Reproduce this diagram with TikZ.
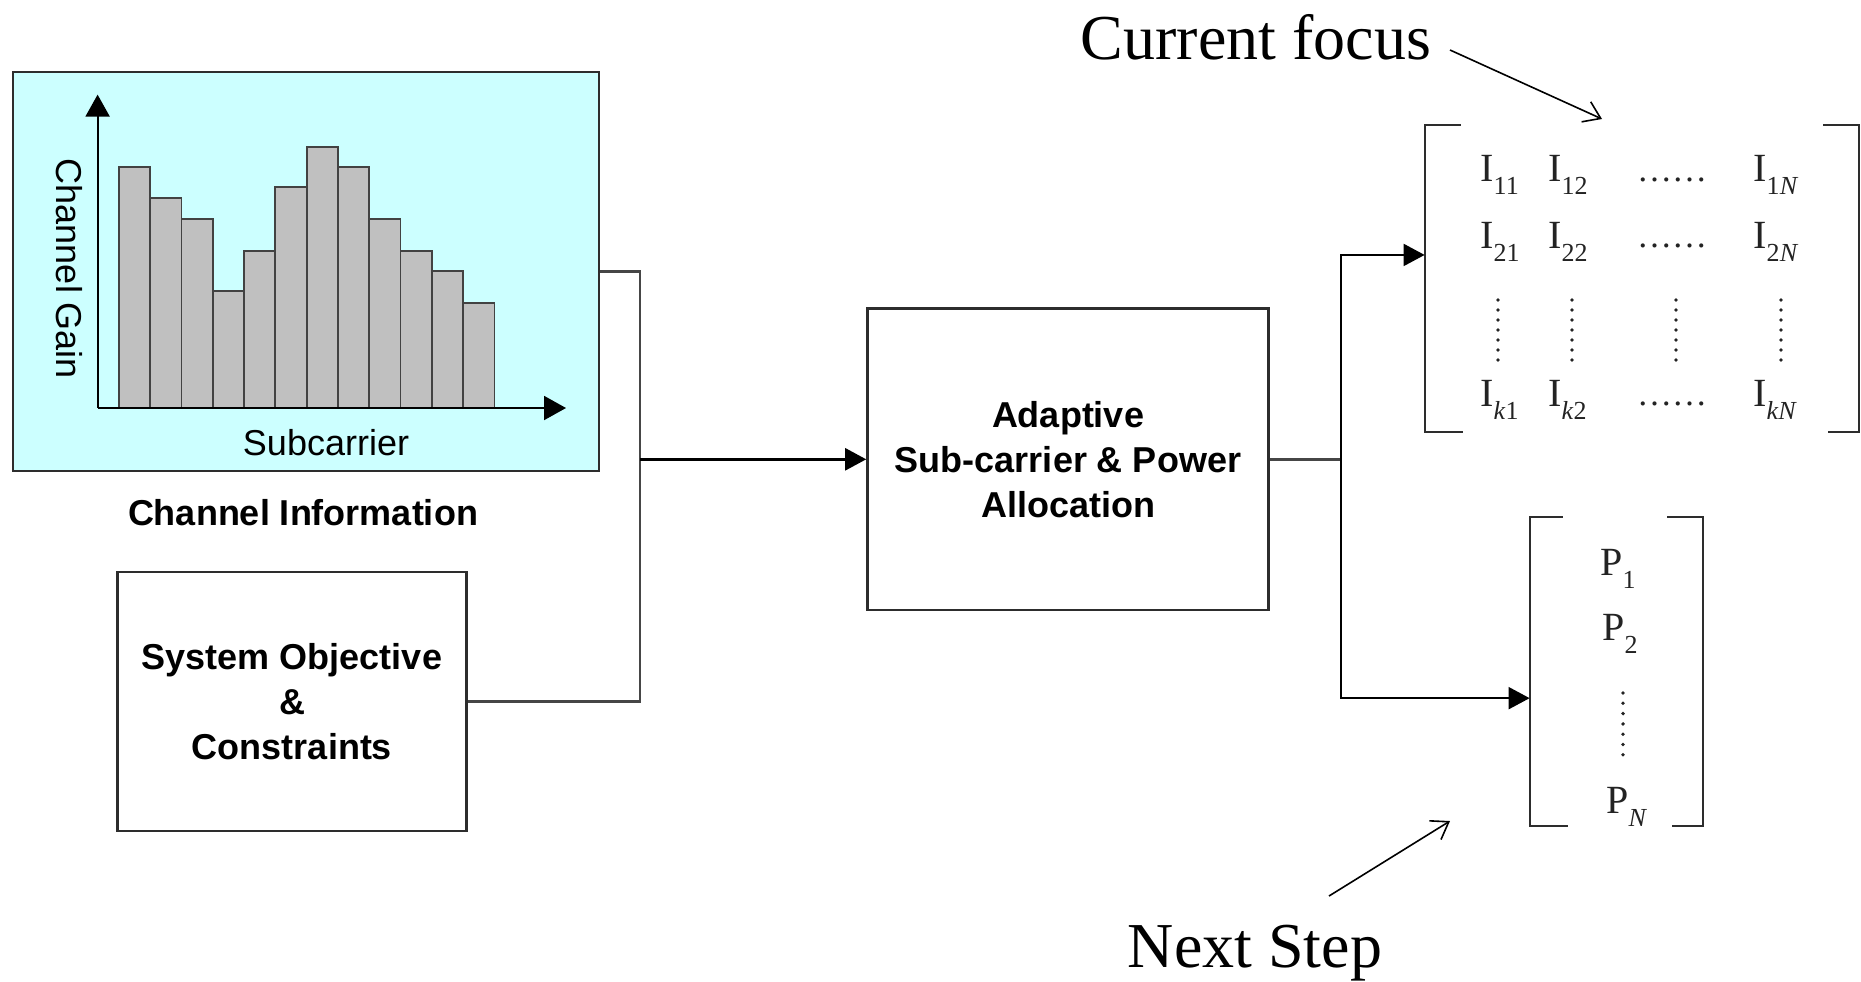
\documentclass[tikz,border=0pt]{standalone}
\usepackage{fontspec}
\setmainfont{Liberation Serif}
\setsansfont{Liberation Sans}
\usetikzlibrary{arrows.meta,calc}
\definecolor{chanfill}{RGB}{204,255,255}
\definecolor{barfill}{RGB}{192,192,192}
\definecolor{edge}{RGB}{45,45,45}
\definecolor{wire}{RGB}{70,70,70}
\definecolor{mtext}{RGB}{35,35,35}
% lowered index for matrix entries
\newcommand\lowsub[1]{\raisebox{-6.5pt}{\fontsize{13}{14}\selectfont #1}}
\begin{document}
\begin{tikzpicture}[x=0.5pt,y=-0.5pt,
  blockbox/.style={draw=edge, line width=1.3pt, inner sep=0pt, align=center,
    font=\sffamily\bfseries\fontsize{18}{22.5}\selectfont},
  bartile/.style={draw=edge!90, line width=0.9pt, fill=barfill},
  axisline/.style={draw=black, line width=1pt, -{Triangle[length=11pt,width=12pt]}},
  conn/.style={draw=wire, line width=1.2pt},
  flow/.style={draw=black, line width=1.2pt, -{Triangle[length=10.5pt,width=11pt]}},
  branch/.style={draw=black, line width=1pt, -{Triangle[length=10.5pt,width=11pt]}},
  callout/.style={draw=black, line width=0.8pt, -{Straight Barb[length=8pt,width=11pt,line width=0.8pt]}},
  plain/.style={font=\sffamily\fontsize{18}{22.5}\selectfont, inner sep=0pt},
  bold/.style={font=\sffamily\bfseries\fontsize{18}{22.5}\selectfont, inner sep=0pt, align=center},
  note/.style={font=\fontsize{32}{36}\selectfont, inner sep=0pt},
  entry/.style={font=\fontsize{20}{22}\selectfont, text=mtext, inner sep=0pt, anchor=base west},
  hdots/.style={font=\fontsize{17.5}{20}\selectfont, text=mtext, inner sep=0pt, anchor=base},
  bracket/.style={draw=edge, line width=1pt},
  vdot/.style={fill=mtext}
]
\useasboundingbox (0,0) rectangle (1861,981);

% ---- channel information block ----
\node[blockbox, fill=chanfill, minimum width=293pt, minimum height=199.5pt] (chan) at (306,271.5) {};
\foreach \i/\h in {0/167,1/198,2/219,3/291,4/251,5/187,6/147,7/167,8/219,9/251,10/271,11/303}
  \draw[bartile] ({118.8+\i*31.3},408) rectangle ({118.8+(\i+1)*31.3},\h);
\draw[axisline] (97.6,408) -- (97.6,94.6);
\draw[axisline] (97.6,408) -- (566,408);
\node[plain, rotate=-90] (gain) at (69,269) {Channel Gain};
\node[plain] (subc) at (326,443) {Subcarrier};
\node[bold] (chaninfo) at (303,513) {Channel Information};

% ---- system objective block ----
\node[blockbox, minimum width=174.5pt, minimum height=129.5pt] (sys) at (292,701.5)
  {System Objective\\\&\\Constraints};

% ---- allocation block ----
\node[blockbox, minimum width=200.5pt, minimum height=150.7pt] (adapt) at (1068,459.3)
  {Adaptive\\Sub-carrier \& Power\\Allocation};

% ---- subcarrier assignment matrix ----
\node[minimum width=217pt, minimum height=153.5pt, inner sep=0pt] (imat) at (1642,278.5) {};
\draw[bracket] ([xshift=18pt]imat.north west) -- (imat.north west) -- (imat.south west) -- ([xshift=19pt]imat.south west);
\draw[bracket] ([xshift=-18pt]imat.north east) -- (imat.north east) -- (imat.south east) -- ([xshift=-15.5pt]imat.south east);
\node[entry] (i11) at (1480,181.7) {I\lowsub{11}};
\node[entry] (i12) at (1548,181.7) {I\lowsub{12}};
\node[hdots] (i1d) at (1672,181) {……};
\node[entry] (i1n) at (1753,181.7) {I\lowsub{1\textit{N}}};
\node[entry] (i21) at (1480,248.3) {I\lowsub{21}};
\node[entry] (i22) at (1548,248.3) {I\lowsub{22}};
\node[hdots] (i2d) at (1672,247.5) {……};
\node[entry] (i2n) at (1753,248.3) {I\lowsub{2\textit{N}}};
\node[entry] (ik1) at (1480,406) {I\lowsub{\textit{k}1}};
\node[entry] (ik2) at (1548,406) {I\lowsub{\textit{k}2}};
\node[hdots] (ikd) at (1672,405) {……};
\node[entry] (ikn) at (1753,406) {I\lowsub{\textit{kN}}};
\foreach \c in {1498,1572,1676,1781}
  \foreach \k in {0,...,6}
    \fill[vdot] (\c,{300+\k*10}) circle[radius=0.95pt];

% ---- power allocation vector ----
\node[minimum width=86.5pt, minimum height=154.5pt, inner sep=0pt] (pmat) at (1616.5,671.5) {};
\draw[bracket] ([xshift=16.5pt]pmat.north west) -- (pmat.north west) -- (pmat.south west) -- ([xshift=19pt]pmat.south west);
\draw[bracket] ([xshift=-18pt]pmat.north east) -- (pmat.north east) -- (pmat.south east) -- ([xshift=-15.5pt]pmat.south east);
\node[entry] (p1) at (1600,575) {P\lowsub{1}};
\node[entry] (p2) at (1602,640) {P\lowsub{2}};
\node[entry] (pn) at (1606,813) {P\lowsub{\textit{N}}};
\foreach \k in {0,...,6}
  \fill[vdot] (1623,{693+\k*10.3}) circle[radius=0.95pt];

% ---- connectors ----
\coordinate (jin) at (640,459.3);
\coordinate (jout) at (1341,459.3);
\draw[conn] (chan.east) -| (jin);
\draw[conn] (sys.east) -| (jin);
\draw[flow] (jin) -- (adapt.west);
\draw[conn] (adapt.east) -- (jout);
\draw[branch] (jout) |- ($(imat.north west)!0.4235!(imat.south west)$);
\draw[branch] (jout) |- ($(pmat.north west)!0.586!(pmat.south west)$);

% ---- annotations ----
\node[note, anchor=base] (cf) at (1256,59) {Current focus};
\node[note, anchor=base] (ns) at (1255,967) {Next Step};
\coordinate (cfstart) at (1450,50);
\coordinate (cfend) at (1602,119);
\coordinate (nsstart) at (1329,896);
\coordinate (nsend) at (1450,821);
\draw[callout] (cfstart) -- (cfend);
\draw[callout] (nsstart) -- (nsend);
\end{tikzpicture}
\end{document}
